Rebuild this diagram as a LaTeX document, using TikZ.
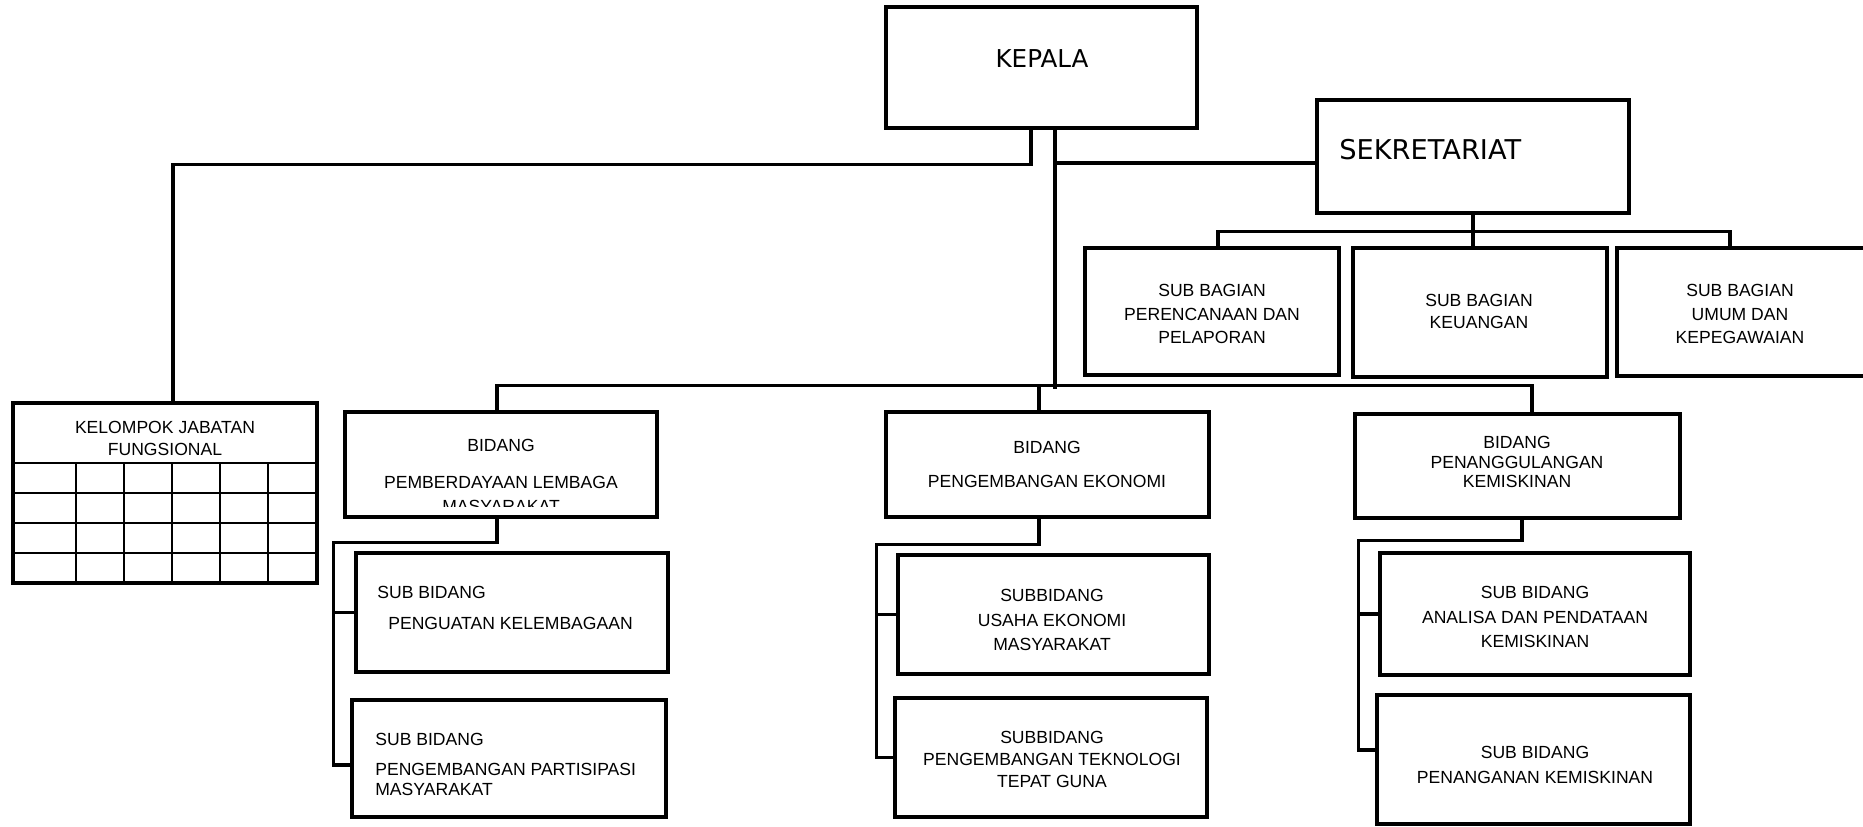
\documentclass[tikz,border=0pt]{standalone}
\usepackage{fontspec}
\setmainfont{Liberation Sans}
\newfontfamily\dejavu{DejaVu Sans}

\tikzset{
  box/.style 2 args={draw, line width=1.9pt, inner sep=0,
    minimum width=#1*0.02cm, minimum height=#2*0.02cm},
  link/.style={line width=1.8pt},
  grid/.style={line width=1.7pt},
  lbl/.style={inner sep=0, align=center, font=\fontsize{10}{#1}\selectfont},
  lbl/.default=13.6pt
}

\begin{document}
\begin{tikzpicture}[x=0.02cm, y=-0.02cm]
\useasboundingbox (0,0) rectangle (1863,827);

% top
\node[box={311}{121}] (kepala) at (1041.5,67.5) {};
\node[inner sep=0, font=\dejavu\fontsize{14}{17}\selectfont] (kepala-t) at (1042,59) {KEPALA};
\node[box={312}{113}] (sekr) at (1473,156.5) {};
\node[inner sep=0, anchor=west, font=\dejavu\fontsize{15.5}{18}\selectfont] (sekr-t) at (1339,150) {SEKRETARIAT};

% sub bagian
\node[box={254}{127}] (sbag1) at (1212,311.5) {};
\node[box={254}{129}] (sbag2) at (1480,312.5) {};
\node[box={249}{128}] (sbag3) at (1741.5,312) {};
\node[lbl] (sbag1-t) at (1212,314) {SUB BAGIAN\\PERENCANAAN DAN\\PELAPORAN};
\node[lbl=13pt] (sbag2-t) at (1479,311.5) {SUB BAGIAN\\KEUANGAN};
\node[lbl] (sbag3-t) at (1740,314) {SUB BAGIAN\\UMUM DAN\\KEPEGAWAIAN};

% kelompok jabatan fungsional
\node[box={304}{180}] (kjf) at (165,493) {};
\node[lbl=13pt] (kjf-t) at (165,438.5) {KELOMPOK JABATAN\\FUNGSIONAL};
\foreach \y in {463,493,523,553}
  \draw[grid] (13,\y) -- (317,\y);
\foreach \x in {76,124,172,220,268}
  \draw[grid] (\x,463) -- (\x,583);

% bidang
\node[box={312}{105}] (bid1) at (501,464.5) {};
\node[box={323}{105}] (bid2) at (1047.5,464.5) {};
\node[box={325}{104}] (bid3) at (1517.5,466) {};
\begin{scope}
  \clip (345,412) rectangle (657,506);
  \node[lbl=13.9pt] (bid1-t) at (501,475.75) {BIDANG\\[7.1pt]PEMBERDAYAAN LEMBAGA\\MASYARAKAT};
\end{scope}
\node[lbl=19.8pt] (bid2-t) at (1047,464.5) {BIDANG\\PENGEMBANGAN EKONOMI};
\node[lbl=11.3pt] (bid3-t) at (1517,462) {BIDANG\\PENANGGULANGAN\\KEMISKINAN};

% sub bidang
\node[box={312}{119}] (sb11) at (512,612.5) {};
\node[box={314}{117}] (sb12) at (509,758.5) {};
\node[box={311}{119}] (sb21) at (1053.5,614.5) {};
\node[box={312}{119}] (sb22) at (1051,757.5) {};
\node[box={310}{122}] (sb31) at (1535,614) {};
\node[box={313}{129}] (sb32) at (1533.5,759.5) {};
\node[lbl=17.6pt, align=left, anchor=west] (sb11-t) at (377,607.5) {SUB BIDANG\\\hspace*{0.22cm}PENGUATAN KELEMBAGAAN};
\node[lbl=11.9pt, align=left, anchor=west] (sb12-t) at (375,764.5) {SUB BIDANG\\[5.1pt]PENGEMBANGAN PARTISIPASI\\MASYARAKAT};
\node[lbl=14.2pt] (sb21-t) at (1052,620) {SUBBIDANG\\USAHA EKONOMI\\MASYARAKAT};
\node[lbl=12.5pt] (sb22-t) at (1052,759) {SUBBIDANG\\PENGEMBANGAN TEKNOLOGI\\TEPAT GUNA};
\node[lbl=14.2pt] (sb31-t) at (1535,617) {SUB BIDANG\\ANALISA DAN PENDATAAN\\KEMISKINAN};
\node[lbl=14.2pt] (sb32-t) at (1535,764.5) {SUB BIDANG\\PENANGANAN KEMISKINAN};

% lines
\coordinate (tr) at ([xshift=0.27cm]kepala.south);
\draw[link] ([xshift=-0.21cm]kepala.south) -- ++(0,35) -| ([xshift=0.16cm]kjf.north);
\draw[link] (tr) -- ++(0,259);
\draw[link] ([yshift=-0.13cm]sekr.west) -- ([yshift=-0.13cm]sekr.west -| tr);
\draw[link] (sekr.south) -- (sekr.south |- sbag2.north);
\draw[link] ([xshift=0.12cm]sbag1.north) -- ++(0,-15) -| ([xshift=-0.23cm]sbag3.north);
\draw[link] ([xshift=-0.08cm]bid1.north) -- ++(0,-25) -| ([xshift=0.29cm]bid3.north);
\draw[link] ([xshift=-0.17cm]bid2.north) -- ++(0,-25);

\draw[link] ([xshift=-0.08cm]bid1.south) -- ++(0,24) -| ([xshift=-0.34cm,yshift=-0.13cm]sb12.west) -- ([yshift=-0.13cm]sb12.west);
\draw[link] ([xshift=-0.42cm]sb11.west) -- (sb11.west);
\draw[link] ([xshift=-0.17cm]bid2.south) -- ++(0,26) -| ([xshift=-0.34cm]sb22.west) -- (sb22.west);
\draw[link] ([xshift=-0.40cm]sb21.west) -- (sb21.west);
\draw[link] ([xshift=0.09cm]bid3.south) -- ++(0,21) -| ([xshift=-0.34cm,yshift=0.19cm]sb32.west) -- ([yshift=0.19cm]sb32.west);
\draw[link] ([xshift=-0.40cm]sb31.west) -- (sb31.west);

\end{tikzpicture}
\end{document}
